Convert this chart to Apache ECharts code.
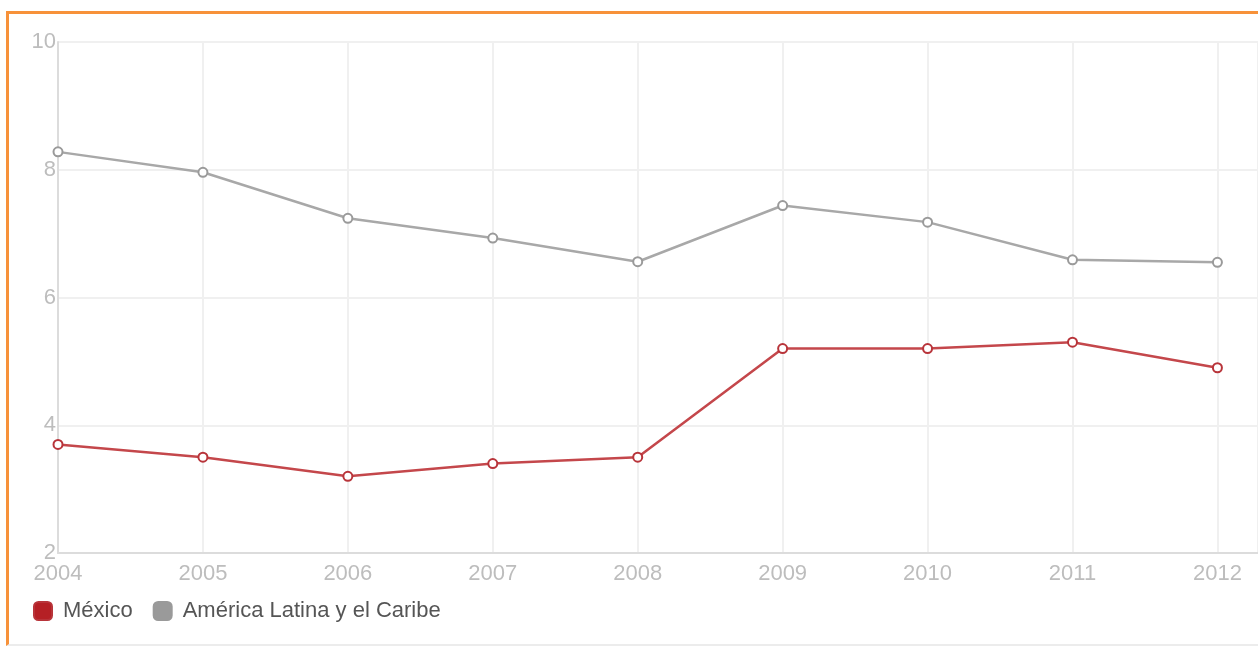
<!DOCTYPE html>
<html>
<head>
<meta charset="utf-8">
<style>
  html, body { margin: 0; padding: 0; background: #fff; }
  #frame {
    position: absolute; left: 6px; top: 11px; width: 1252px; height: 635px;
    border-left: 3px solid #f7923a; border-top: 3px solid #f7923a;
    border-bottom: 2px solid #ececec; box-sizing: border-box; pointer-events: none; z-index: 2;
  }
  #chart { position: absolute; left: 0; top: 0; width: 1258px; height: 648px; }
</style>
<script src="https://cdn.jsdelivr.net/npm/echarts@6/dist/echarts.min.js"></script>
</head>
<body>
<div id="chart"></div>
<div id="frame"></div>
<script>
// Unemployment rate (%), 2004–2012
const years = [2004, 2005, 2006, 2007, 2008, 2009, 2010, 2011, 2012];
const mexico = [3.70, 3.50, 3.20, 3.40, 3.50, 5.20, 5.20, 5.30, 4.90];
const latam = [8.28, 7.96, 7.24, 6.93, 6.56, 7.44, 7.18, 6.59, 6.55];
const seriesNames = ['México', 'América Latina y el Caribe'];
const yTicks = [2, 4, 6, 8, 10];

const pairs = vals => years.map((y, i) => [y, vals[i]]);

const chart = echarts.init(document.getElementById('chart'), null, { renderer: 'canvas' });
const font = '"Liberation Sans", Arial, sans-serif';

chart.setOption({
  animation: false,
  grid: { left: 58, top: 42, right: 0, bottom: 95, containLabel: false },
  legend: {
    left: 33, top: 600, padding: 0,
    itemWidth: 18, itemHeight: 18, itemGap: 20,
    icon: 'roundRect',
    textStyle: { fontFamily: font, fontSize: 22, color: '#555', padding: [0, 0, 0, 6] },
    data: [
      { name: seriesNames[0], itemStyle: { color: '#b52025' } },
      { name: seriesNames[1], itemStyle: { color: '#9a9a9a' } }
    ]
  },
  xAxis: {
    // the plot runs a little past the last year
    type: 'value', min: years[0], max: 2012.28, interval: 1,
    axisLine: { show: true, lineStyle: { color: '#dcdcdc', width: 2 } },
    axisTick: { show: false },
    splitLine: { show: true, lineStyle: { color: '#f0f0f0', width: 2 } },
    axisLabel: {
      margin: 10, color: '#bdbdbd', fontFamily: font, fontSize: 22,
      showMaxLabel: false,
      formatter: v => (Number.isInteger(v) ? String(v) : '')
    }
  },
  yAxis: {
    type: 'value', min: yTicks[0], max: yTicks[yTicks.length - 1], interval: 2,
    axisLine: { show: true, lineStyle: { color: '#dcdcdc', width: 2 } },
    axisTick: { show: false },
    splitLine: { show: true, lineStyle: { color: '#f0f0f0', width: 2 } },
    axisLabel: { margin: 2, color: '#bdbdbd', fontFamily: font, fontSize: 22 }
  },
  series: [
    {
      name: seriesNames[0], type: 'line', data: pairs(mexico),
      symbol: 'circle', symbolSize: 9,
      lineStyle: { color: '#c4474b', width: 2.5 },
      itemStyle: { color: '#ffffff', borderColor: '#b8343a', borderWidth: 2 }
    },
    {
      name: seriesNames[1], type: 'line', data: pairs(latam),
      symbol: 'circle', symbolSize: 9,
      lineStyle: { color: '#a8a8a8', width: 2.5 },
      itemStyle: { color: '#ffffff', borderColor: '#9a9a9a', borderWidth: 2 }
    }
  ]
});
</script>
</body>
</html>
